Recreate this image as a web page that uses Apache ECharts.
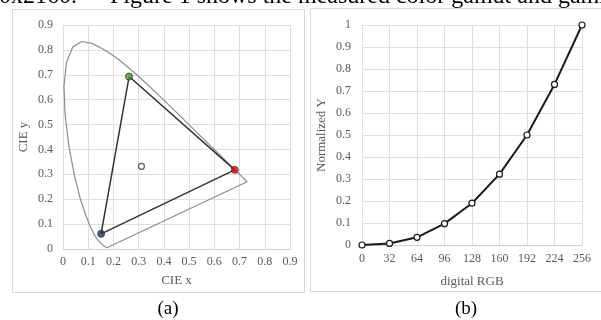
<!DOCTYPE html>
<html>
<head>
<meta charset="utf-8">
<script src="https://cdn.jsdelivr.net/npm/echarts@6/dist/echarts.min.js"></script>
<style>
html, body { margin: 0; padding: 0; background: #fff; }
#chart { width: 601px; height: 320px; }
</style>
</head>
<body>
<div id="chart"></div>
<script>
// (a) spectral locus
var locus = [
  [0.1741, 0.0050], [0.1714, 0.0051], [0.1644, 0.0109], [0.1566, 0.0177],
  [0.1510, 0.0227], [0.1440, 0.0297], [0.1355, 0.0399], [0.1241, 0.0578],
  [0.1096, 0.0868], [0.0913, 0.1327], [0.0687, 0.2007], [0.0454, 0.2950],
  [0.0235, 0.4127], [0.0082, 0.5384], [0.0039, 0.6548], [0.0139, 0.7502],
  [0.0389, 0.8120], [0.0743, 0.8338], [0.1142, 0.8262], [0.1547, 0.8059],
  [0.1929, 0.7816], [0.2296, 0.7543], [0.3016, 0.6923], [0.3731, 0.6245],
  [0.4441, 0.5547], [0.5125, 0.4866], [0.5752, 0.4242], [0.6270, 0.3725],
  [0.6658, 0.3340], [0.6915, 0.3083], [0.7190, 0.2809], [0.7300, 0.2700],
  [0.7347, 0.2653], [0.1741, 0.0050]
];
// measured primaries and white point
var green = [0.262, 0.693];
var red = [0.681, 0.318];
var blue = [0.151, 0.061];
var white = [0.311, 0.332];

// (b) gamma curve
var rgbLevels = [0, 32, 64, 96, 128, 160, 192, 224, 256];
var normY = [0, 0.007, 0.035, 0.097, 0.19, 0.322, 0.5, 0.73, 1.0];

var serif = '"Liberation Serif", "Times New Roman", serif';
var gridColor = '#dedede';
var labelColor = '#595959';

var chart = echarts.init(document.getElementById('chart'));

function valAxis(grid, min, max, interval, name, gap, margin, isY) {
  return {
    type: 'value', gridIndex: grid, min: min, max: max, interval: interval,
    name: name, nameLocation: 'middle', nameGap: gap,
    nameTextStyle: { fontFamily: serif, fontSize: 13, color: labelColor },
    axisLine: { show: !isY, lineStyle: { color: '#d0d0d0' } },
    axisTick: { show: false },
    axisLabel: { fontFamily: serif, fontSize: 12, color: labelColor, margin: margin },
    splitLine: { show: true, lineStyle: { color: gridColor, width: 1 } }
  };
}

var option = {
  animation: false,
  grid: [
    { left: 63, top: 25, width: 227, height: 224 },
    { left: 362, top: 25, width: 220, height: 220 }
  ],
  xAxis: [
    valAxis(0, 0, 0.9, 0.1, 'CIE x', 25, 7, false),
    valAxis(1, 0, 256, 32, 'digital RGB', 30, 8, false)
  ],
  yAxis: [
    valAxis(0, 0, 0.9, 0.1, 'CIE y', 33, 10, true),
    valAxis(1, 0, 1, 0.1, 'Normalized Y', 34, 11, true)
  ],
  graphic: [
    { type: 'rect', shape: { x: 12.5, y: 9.5, width: 292, height: 283 },
      style: { fill: 'none', stroke: '#d9d9d9', lineWidth: 1 } },
    { type: 'rect', shape: { x: 310.5, y: 8.5, width: 300, height: 283 },
      style: { fill: 'none', stroke: '#d9d9d9', lineWidth: 1 } },
    // running text of the page above the figure, cut off at the top
    { type: 'text', x: -1, y: 9,
      style: { text: '0x2160.', font: '24px ' + serif, fill: '#000', verticalAlign: 'bottom' } },
    { type: 'text', x: 110, y: 9,
      style: { text: 'Figure 1 shows the measured color gamut and gamma',
        font: '24px ' + serif, fill: '#000', verticalAlign: 'bottom' } },
    { type: 'text', x: 168, y: 309,
      style: { text: '(a)', font: '19px ' + serif, fill: '#000', align: 'center', verticalAlign: 'middle' } },
    { type: 'text', x: 466, y: 309,
      style: { text: '(b)', font: '19px ' + serif, fill: '#000', align: 'center', verticalAlign: 'middle' } }
  ],
  series: [
    {
      type: 'line', xAxisIndex: 0, yAxisIndex: 0, data: locus,
      symbol: 'none', lineStyle: { color: '#8c8c8c', width: 1.2 }, z: 2
    },
    {
      type: 'line', xAxisIndex: 0, yAxisIndex: 0, data: [green, red, blue, green],
      symbol: 'none', lineStyle: { color: '#333', width: 1.5 }, z: 3
    },
    {
      type: 'scatter', xAxisIndex: 0, yAxisIndex: 0, symbolSize: 7, z: 4,
      data: [
        { value: green, itemStyle: { color: '#4e9a2a' } },
        { value: red, itemStyle: { color: '#ff0000' } },
        { value: blue, itemStyle: { color: '#1f3864' } }
      ],
      itemStyle: { borderColor: '#333', borderWidth: 1 }
    },
    {
      type: 'scatter', xAxisIndex: 0, yAxisIndex: 0, symbolSize: 6, z: 4,
      data: [white],
      itemStyle: { color: '#fff', borderColor: '#333', borderWidth: 1.2 }
    },
    {
      type: 'line', xAxisIndex: 1, yAxisIndex: 1,
      data: rgbLevels.map(function (v, i) { return [v, normY[i]]; }),
      symbol: 'circle', symbolSize: 6, z: 3,
      lineStyle: { color: '#1a1a1a', width: 2 },
      itemStyle: { color: '#fff', borderColor: '#1a1a1a', borderWidth: 1.2 }
    }
  ]
};

chart.setOption(option);
</script>
</body>
</html>
